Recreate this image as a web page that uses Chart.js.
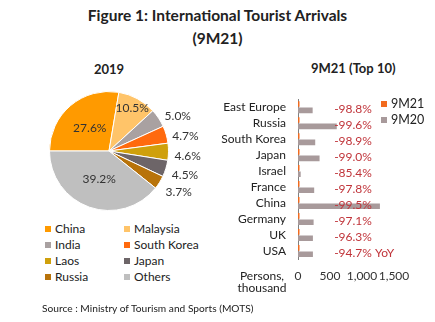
<!DOCTYPE html>
<html>
<head>
<meta charset="utf-8">
<script src="https://cdn.jsdelivr.net/npm/chart.js@4"></script>
<style>
  body { margin: 0; width: 435px; height: 322px; background: #fff; font-family: Lato, sans-serif; color: #222; position: relative; overflow: hidden; }
  .abs { position: absolute; white-space: nowrap; }
  .title { font-weight: bold; font-size: 15.5px; text-align: center; width: 435px; left: 0; }
  .sub { font-weight: bold; font-size: 13px; }
  .leg { font-size: 12px; line-height: 12px; }
  .sq { display: inline-block; width: 6px; height: 6px; margin-right: 4px; vertical-align: 1px; }
  canvas { position: absolute; }
</style>
</head>
<body>
<div class="abs title" style="top:6px">Figure 1: International Tourist Arrivals</div>
<div class="abs title" style="top:29px">(9M21)</div>
<div class="abs sub" style="left:94px;top:61px">2019</div>
<div class="abs sub" style="left:311px;top:60px">9M21 (Top 10)</div>
<canvas id="pie" width="220" height="135" style="left:0;top:85px"></canvas>
<canvas id="bars" width="215" height="210" style="left:220px;top:80px"></canvas>
<div id="pieLegend"></div>
<div id="barLegend"></div>
<div class="abs leg" style="left:232px;top:270px;width:60px;text-align:center">Persons,<br>thousand</div>
<div class="abs" style="left:42px;top:302px;font-size:10.2px">Source : Ministry of Tourism and Sports (MOTS)</div>
<script>
const origins2019 = ['China', 'Malaysia', 'India', 'South Korea', 'Laos', 'Japan', 'Russia', 'Others'];
const shares2019 = [27.6, 10.5, 5.0, 4.7, 4.6, 4.5, 3.7, 39.2];
const pieColors = ['#FF9A00', '#FFC469', '#A9A1A1', '#FF6A0E', '#CFA00C', '#6D6568', '#B8730A', '#BFBFBF'];

const countries = ['East Europe', 'Russia', 'South Korea', 'Japan', 'Israel', 'France', 'China', 'Germany', 'UK', 'USA'];
const arrivals9M21 = [2.7, 2.4, 3.0, 3.4, 6.1, 5.6, 6.4, 7.1, 8.6, 12.3];
const arrivals9M20 = [229, 606, 269, 337, 42, 253, 1280, 244, 233, 233];
const yoyChange = [-98.8, -99.6, -98.9, -99.0, -85.4, -97.8, -99.5, -97.1, -96.3, -94.7];
const xTicks = [0, 500, 1000, 1500];

Chart.defaults.font.family = 'Lato';
Chart.defaults.color = '#222';

// pie legend, two columns
const pieLegend = document.getElementById('pieLegend');
origins2019.forEach((name, i) => {
  const d = document.createElement('div');
  d.className = 'abs leg';
  d.style.left = (i % 2 ? 124 : 45) + 'px';
  d.style.top = (223 + Math.floor(i / 2) * 16) + 'px';
  d.innerHTML = `<span class="sq" style="background:${pieColors[i]}"></span>${name}`;
  pieLegend.appendChild(d);
});

const barLegend = document.getElementById('barLegend');
[['9M21', '#F26B1F'], ['9M20', '#A89A9B']].forEach(([name, col], i) => {
  const d = document.createElement('div');
  d.className = 'abs leg';
  d.style.left = '381px';
  d.style.top = (98 + i * 16) + 'px';
  d.style.fontSize = '12.5px';
  d.innerHTML = `<span class="sq" style="background:${col}"></span>${name}`;
  barLegend.appendChild(d);
});

const pieLabels = {
  id: 'pieLabels',
  afterDatasetsDraw(chart) {
    const ctx = chart.ctx;
    const meta = chart.getDatasetMeta(0);
    ctx.save();
    ctx.font = '12px Lato';
    ctx.fillStyle = '#333';
    ctx.textBaseline = 'middle';
    meta.data.forEach((arc, i) => {
      const p = arc.getProps(['x', 'y', 'startAngle', 'endAngle', 'outerRadius'], true);
      const mid = (p.startAngle + p.endAngle) / 2;
      const c = Math.cos(mid), s = Math.sin(mid);
      const txt = shares2019[i].toFixed(1) + '%';
      if (shares2019[i] > 10) {
        const f = shares2019[i] > 20 ? 0.5 : 0.82;
        ctx.textAlign = 'center';
        ctx.fillText(txt, p.x + c * p.outerRadius * f, p.y + s * p.outerRadius * f);
      } else {
        ctx.textAlign = 'left';
        ctx.fillText(txt, p.x + c * p.outerRadius + 6, p.y + s * (p.outerRadius + 10) + 4);
      }
    });
    ctx.restore();
  }
};

new Chart(document.getElementById('pie'), {
  type: 'pie',
  data: {
    labels: origins2019,
    datasets: [{ data: shares2019, backgroundColor: pieColors, borderColor: '#fff', borderWidth: 1 }]
  },
  options: {
    responsive: false,
    animation: false,
    rotation: 270,
    layout: { padding: { left: 49, right: 51, top: 6, bottom: 9 } },
    plugins: { legend: { display: false }, tooltip: { enabled: false } }
  },
  plugins: [pieLabels]
});

const yoyLabels = {
  id: 'yoyLabels',
  afterDatasetsDraw(chart) {
    const ctx = chart.ctx;
    const xs = chart.scales.x, ys = chart.scales.y;
    ctx.save();
    ctx.font = '12px Lato';
    ctx.fillStyle = '#C0343A';
    ctx.textAlign = 'left';
    ctx.textBaseline = 'middle';
    yoyChange.forEach((v, i) => {
      const txt = v.toFixed(1) + '%' + (i === yoyChange.length - 1 ? ' YoY' : '');
      ctx.fillText(txt, xs.getPixelForValue(565), ys.getPixelForValue(i) + 2);
    });
    ctx.restore();
  }
};

new Chart(document.getElementById('bars'), {
  type: 'bar',
  data: {
    labels: countries,
    datasets: [
      { label: '9M21', data: arrivals9M21, backgroundColor: '#F26B1F', minBarLength: 1.5 },
      { label: '9M20', data: arrivals9M20, backgroundColor: '#A89A9B' }
    ]
  },
  options: {
    responsive: false,
    animation: false,
    indexAxis: 'y',
    categoryPercentage: 0.8,
    barPercentage: 0.88,
    layout: { padding: { top: 8, right: 41, left: 0, bottom: 0 } },
    scales: {
      x: {
        min: xTicks[0],
        max: xTicks[xTicks.length - 1],
        afterBuildTicks: s => { s.ticks = xTicks.map(v => ({ value: v })); },
        afterFit: s => { s.height = 31; },
        grid: { display: false, drawTicks: false },
        border: { display: false },
        ticks: { font: { size: 12 }, color: '#333', padding: 10, maxRotation: 0, autoSkip: false,
          callback: v => v.toLocaleString('en-US') }
      },
      y: {
        afterFit: s => { s.width = 78; },
        grid: { display: false, drawTicks: false },
        border: { display: true, color: '#808080', width: 1 },
        ticks: { font: { size: 12 }, color: '#222', padding: 12, autoSkip: false }
      }
    },
    plugins: { legend: { display: false }, tooltip: { enabled: false } }
  },
  plugins: [yoyLabels]
});
</script>
</body>
</html>
